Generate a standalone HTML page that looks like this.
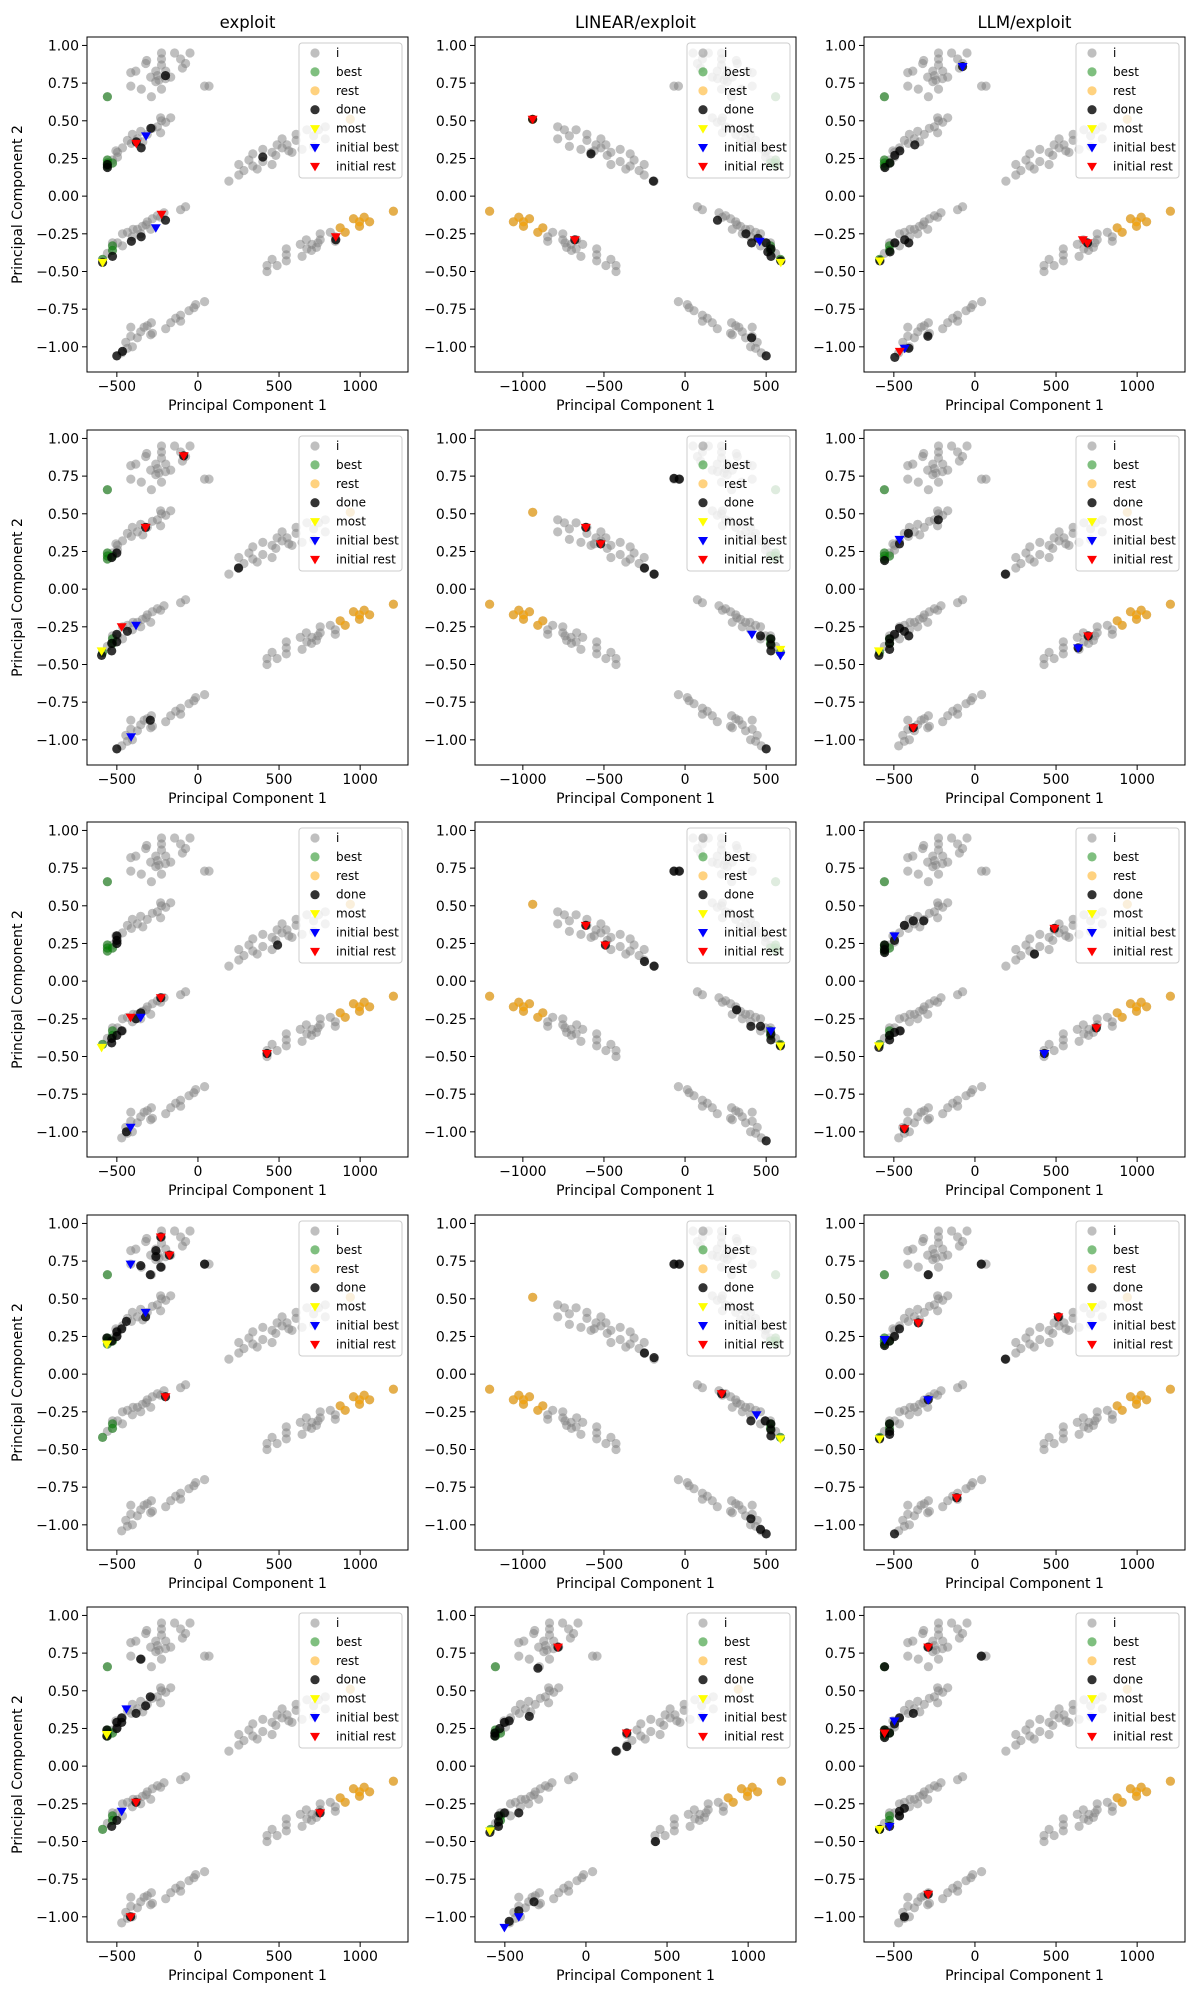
<!DOCTYPE html>
<html><head><meta charset="utf-8"><style>
html,body{margin:0;padding:0;background:#fff;}
svg{display:block;font-family:"DejaVu Sans","Liberation Sans",sans-serif;}
</style></head><body>
<svg id="fig" width="1200" height="2000" viewBox="0 0 1200 2000" xmlns="http://www.w3.org/2000/svg"></svg>
<script>
// ---- base point cloud (exploit orientation) ----
const grayPts = [[-225,.95],[-144,.95],[-49,.95],[-316,.90],[-225,.91],[-107,.91],[-76,.88],[-414,.82],[-383,.83],[-322,.88],[-260,.83],[-199,.83],[-250,.80],[-168,.79],[-96,.85],[-291,.79],[-260,.76],[-414,.73],[-349,.71],[-225,.71],[-287,.66],[41,.73],[68,.73],[-225,.87],[-200,.78],[-240,.77],
[-527,.24],[-496,.29],[-465,.32],[-435,.37],[-404,.41],[-373,.38],[-353,.43],[-312,.41],[-281,.45],[-230,.52],[-199,.49],[-168,.52],[-230,.42],[-250,.46],[-496,.26],[-506,.30],[-225,.50],[-410,.35],[-340,.36],
[-558,-.38],[-527,-.31],[-496,-.31],[-465,-.25],[-435,-.24],[-404,-.27],[-373,-.22],[-342,-.20],[-312,-.17],[-281,-.15],[-250,-.13],[-209,-.11],[-107,-.09],[-76,-.07],[-465,-.33],[-291,-.22],[-353,-.25],[-230,-.14],[-400,-.22],[-320,-.19],
[-445,-.97],[-414,-.93],[-414,-.87],[-353,-.90],[-312,-.86],[-287,-.84],[-281,-.91],[-332,-.87],[-199,-.88],[-168,-.84],[-137,-.81],[-107,-.79],[-107,-.83],[-55,-.76],[-25,-.74],[-14,-.72],[41,-.70],[-291,-.92],[-373,-.94],[-404,-1.00],[-435,-1.01],[-470,-1.04],
[191,.10],[252,.14],[252,.21],[283,.17],[314,.24],[338,.28],[338,.20],[365,.18],[400,.31],[400,.23],[457,.21],[457,.29],[488,.34],[519,.38],[519,.32],[549,.34],[580,.29],[605,.41],[605,.37],[642,.31],[672,.44],[713,.40],[744,.44],[785,.46],[785,.38],[713,.33],[480,.27],[560,.30],
[426,-.50],[426,-.46],[457,-.42],[488,-.46],[545,-.35],[545,-.43],[545,-.39],[631,-.32],[642,-.40],[668,-.29],[672,-.35],[703,-.32],[730,-.34],[754,-.29],[754,-.25],[816,-.24],[847,-.30],[847,-.27],[700,-.36],[740,-.31]];
const restPts = [[877,-.21],[908,-.24],[959,-.15],[996,-.17],[996,-.20],[1025,-.14],[1058,-.17],[1205,-.10],[939,.51]];
const bestPts = [[-558,.66],[-558,.24],[-558,.22],[-527,.22],[-527,-.33],[-527,-.36],[-588,-.42],[-558,.20]];
const xTicksNormal = [-500,0,500,1000];
const xTicksFlip = [-1000,-500,0,500];
const yTicks = [-1.00,-0.75,-0.50,-0.25,0.00,0.25,0.50,0.75,1.00];
const colTitles = ["exploit","LINEAR/exploit","LLM/exploit"];
const legendLabels = ["i","best","rest","done","most","initial best","initial rest"];

// ---- per-panel overlays (display coordinates) ----
const doneR0C0=[[-200,.80],[-558,.21],[-558,.19],[-290,.45],[-350,.32],[-380,.36],[400,.26],[-200,-.16],[-350,-.27],[-410,-.30],[-527,-.40],[-588,-.44],[-500,-1.06],[-465,-1.03],[850,-.29]];
const mostR0C0=[[-588,-.44]], ibR0C0=[[-320,.40],[-260,-.21]], irR0C0=[[-380,.35],[-225,-.12],[850,-.27]];
const doneR0C1=[[-940,.51],[-680,-.29],[-580,.28],[-195,.10],[200,-.16],[375,-.25],[410,-.31],[500,-.31],[530,-.35],[510,-.37],[530,-.40],[590,-.43],[410,-.94],[500,-1.06],[450,-.28]];
const mostR0C1=[[590,-.44]], ibR0C1=[[460,-.30]], irR0C1=[[-940,.51],[-680,-.29]];
const doneR0C2=[[-76,.86],[-555,.19],[-524,.22],[-494,.27],[-463,.30],[-371,.34],[-586,-.43],[-524,-.37],[-494,-.31],[-433,-.29],[-408,-.31],[694,-.31],[-494,-1.07],[-408,-1.01],[-290,-.93]];
const mostR0C2=[[-586,-.43]], ibR0C2=[[-76,.86],[-433,-1.01]], irR0C2=[[665,-.29],[694,-.31],[-463,-1.03]];
const doneR1C0=[[-88,.885],[-323,.41],[-532,.21],[-500,.24],[250,.14],[-435,-.28],[-500,-.30],[-532,-.36],[-532,-.41],[-594,-.44],[-500,-.35],[-294,-.87],[-500,-1.06]];
const mostR1C0=[[-594,-.41]], ibR1C0=[[-382,-.24],[-412,-.98]], irR1C0=[[-88,.885],[-323,.41],[-470,-.25]];
const doneR1C1=[[-68,.735],[-35,.73],[-612,.41],[-520,.30],[-250,.14],[-191,.10],[465,-.31],[529,-.33],[529,-.37],[529,-.41],[500,-1.06]];
const mostR1C1=[[588,-.40]], ibR1C1=[[412,-.30],[588,-.44]], irR1C1=[[-612,.41],[-520,.30]];
const doneR1C2=[[-410,.37],[-226,.46],[-465,.30],[-557,.19],[188,.10],[-592,-.44],[-526,-.33],[-526,-.36],[-526,-.40],[-496,-.30],[-465,-.26],[-435,-.28],[-408,-.31],[636,-.39],[698,-.31],[-380,-.92]];
const mostR1C2=[[-592,-.41]], ibR1C2=[[-465,.33],[636,-.39]], irR1C2=[[698,-.31],[-380,-.92]];
const doneR2C0=[[-500,.30],[-500,.25],[-500,.27],[491,.24],[-229,-.11],[-353,-.21],[-382,-.25],[-470,-.33],[-500,-.36],[-532,-.38],[-532,-.41],[426,-.48],[-441,-1.00]];
const mostR2C0=[[-594,-.44]], ibR2C0=[[-353,-.24],[-415,-.97]], irR2C0=[[-229,-.11],[-415,-.24],[426,-.48]];
const doneR2C1=[[-68,.73],[-35,.73],[-612,.37],[-491,.24],[-250,.13],[-191,.10],[318,-.19],[406,-.30],[465,-.30],[529,-.39],[529,-.35],[588,-.43],[500,-1.06]];
const mostR2C1=[[588,-.43]], ibR2C1=[[529,-.33]], irR2C1=[[-612,.37],[-491,.24]];
const doneR2C2=[[-557,.19],[-557,.24],[-557,.21],[-496,.27],[-435,.37],[-380,.40],[-316,.40],[367,.18],[490,.35],[-592,-.44],[-526,-.39],[-526,-.36],[-496,-.34],[-461,-.33],[428,-.48],[749,-.31],[-435,-.98]];
const mostR2C2=[[-592,-.43]], ibR2C2=[[-496,.30],[428,-.48]], irR2C2=[[490,.35],[749,-.31],[-435,-.98]];
const doneR3C0=[[-229,.91],[-259,.82],[-259,.78],[-176,.79],[-353,.72],[-294,.66],[-229,.71],[41,.73],[-323,.38],[-441,.35],[-470,.30],[-500,.28],[-500,.25],[-532,.22],[-562,.24],[-200,-.15]];
const mostR3C0=[[-562,.20]], ibR3C0=[[-415,.73],[-323,.41]], irR3C0=[[-229,.91],[-176,.79],[-200,-.15]];
const doneR3C1=[[-68,.73],[-35,.73],[-250,.14],[-191,.11],[226,-.13],[406,-.31],[494,-.31],[529,-.33],[529,-.37],[529,-.41],[406,-.96],[465,-1.03],[500,-1.06]];
const mostR3C1=[[588,-.43]], ibR3C1=[[441,-.27]], irR3C1=[[226,-.13]];
const doneR3C2=[[-288,.66],[39,.73],[-557,.19],[-526,.22],[-496,.25],[-465,.30],[-349,.34],[188,.10],[514,.38],[-288,-.17],[-526,-.33],[-526,-.38],[-526,-.40],[-588,-.43],[-112,-.82],[-496,-1.06]];
const mostR3C2=[[-588,-.43]], ibR3C2=[[-557,.23],[-288,-.17]], irR3C2=[[-349,.34],[514,.38],[-112,-.82]];
const doneR4C0=[[-353,.71],[-294,.46],[-323,.40],[-382,.35],[-470,.32],[-500,.29],[-470,.29],[-500,.25],[-562,.24],[-562,.20],[-382,-.24],[-500,-.36],[-532,-.40],[753,-.31],[-415,-1.00]];
const mostR4C0=[[-562,.21]], ibR4C0=[[-441,.38],[-470,-.30]], irR4C0=[[-382,-.24],[753,-.31],[-415,-1.00]];
const doneR4C1=[[-172,.79],[-296,.65],[-562,.20],[-562,.22],[-532,.25],[-503,.29],[-473,.30],[-349,.33],[252,.22],[186,.10],[252,.13],[-539,-.33],[-539,-.37],[-503,-.31],[-414,-.31],[-539,-.40],[-592,-.44],[429,-.50],[-320,-.90],[-414,-.96],[-473,-1.03]];
const mostR4C1=[[-592,-.43]], ibR4C1=[[-414,-1.00],[-503,-1.07]], irR4C1=[[-172,.79],[252,.22]];
const doneR4C2=[[-288,.79],[-557,.66],[39,.73],[-465,.32],[-380,.35],[-557,.24],[-557,.22],[-526,.22],[-557,.19],[-496,.28],[-465,-.30],[-465,-.33],[-435,-.28],[-526,-.40],[-588,-.42],[-288,-.85],[-435,-1.00]];
const mostR4C2=[[-588,-.42]], ibR4C2=[[-496,.30],[-526,-.40]], irR4C2=[[-288,.79],[-557,.22],[-288,-.85]];

const panels = [
 [doneR0C0,mostR0C0,ibR0C0,irR0C0,false],[doneR0C1,mostR0C1,ibR0C1,irR0C1,true],[doneR0C2,mostR0C2,ibR0C2,irR0C2,false],
 [doneR1C0,mostR1C0,ibR1C0,irR1C0,false],[doneR1C1,mostR1C1,ibR1C1,irR1C1,true],[doneR1C2,mostR1C2,ibR1C2,irR1C2,false],
 [doneR2C0,mostR2C0,ibR2C0,irR2C0,false],[doneR2C1,mostR2C1,ibR2C1,irR2C1,true],[doneR2C2,mostR2C2,ibR2C2,irR2C2,false],
 [doneR3C0,mostR3C0,ibR3C0,irR3C0,false],[doneR3C1,mostR3C1,ibR3C1,irR3C1,true],[doneR3C2,mostR3C2,ibR3C2,irR3C2,false],
 [doneR4C0,mostR4C0,ibR4C0,irR4C0,false],[doneR4C1,mostR4C1,ibR4C1,irR4C1,false],[doneR4C2,mostR4C2,ibR4C2,irR4C2,false]
];

const NS="http://www.w3.org/2000/svg";
const fig=document.getElementById('fig');
function mk(tag,attrs,parent){const e=document.createElementNS(NS,tag);for(const k in attrs)e.setAttribute(k,attrs[k]);(parent||fig).appendChild(e);return e;}
const colLeft=[87,475,864], rowTop=[37,430,822,1215,1607], AW=321, AH=335;
const YMAX=1.056, YMIN=-1.167;
function fmtY(v){const s=Math.abs(v).toFixed(2);return (v<0?"\u2212":"")+s;}
function fmtX(v){return (v<0?"\u2212":"")+Math.abs(v);}
function circ(g,x,y,fill,name){const c=mk('circle',{cx:x.toFixed(1),cy:y.toFixed(1),r:4.6,fill:fill},g);

return c;}
function tri(g,x,y,fill,name){const p=mk('polygon',{points:`${(x-5).toFixed(1)},${(y-3.5).toFixed(1)} ${(x+5).toFixed(1)},${(y-3.5).toFixed(1)} ${x.toFixed(1)},${(y+5).toFixed(1)}`,fill:fill},g);

return p;}

const C_GRAY="rgba(128,128,128,0.5)", C_GREEN="rgba(0,128,0,0.5)", C_ORANGE="rgba(255,165,0,0.6)", C_DONE="rgba(0,0,0,0.8)";

panels.forEach((p,idx)=>{
  const r=Math.floor(idx/3), c=idx%3, L=colLeft[c], T=rowTop[r];
  const [done,most,ib,ir,flip]=p;
  const xmin=flip?-1295:-684, xmax=flip?684:1295;
  const sx=v=>L+(v-xmin)/(xmax-xmin)*AW;
  const sy=v=>T+(YMAX-v)/(YMAX-YMIN)*AH;
  const g=mk('g',{});
  
  
  const cid='clip'+idx;
  const cp=mk('clipPath',{id:cid},g);mk('rect',{x:L,y:T,width:AW,height:AH},cp);
  const pg=mk('g',{'clip-path':`url(#${cid})`},g);
  
  
  const fx=v=>flip?-v:v;
  grayPts.forEach(q=>circ(pg,sx(fx(q[0])),sy(q[1]),C_GRAY,'point-i'));
  restPts.forEach(q=>circ(pg,sx(fx(q[0])),sy(q[1]),C_GRAY,'point-i'));
  bestPts.forEach(q=>circ(pg,sx(fx(q[0])),sy(q[1]),C_GRAY,'point-i'));
  bestPts.forEach(q=>circ(pg,sx(fx(q[0])),sy(q[1]),C_GREEN,'point-best'));
  restPts.forEach(q=>circ(pg,sx(fx(q[0])),sy(q[1]),C_ORANGE,'point-rest'));
  done.forEach(q=>circ(pg,sx(q[0]),sy(q[1]),C_DONE,'point-done'));
  most.forEach(q=>tri(pg,sx(q[0]),sy(q[1]),'#ffff00','marker-most'));
  ib.forEach(q=>tri(pg,sx(q[0]),sy(q[1]),'#0000ff','marker-initial-best'));
  ir.forEach(q=>tri(pg,sx(q[0]),sy(q[1]),'#ff0000','marker-initial-rest'));
  const fr=mk('rect',{x:L,y:T,width:AW,height:AH,fill:'none',stroke:'#000','stroke-width':1},g);
  
  
  (flip?xTicksFlip:xTicksNormal).forEach(v=>{
    const x=sx(v);
    mk('line',{x1:x,y1:T+AH,x2:x,y2:T+AH+5,stroke:'#000','stroke-width':1},g);
    const t=mk('text',{x:x,y:T+AH+19,'font-size':14,'text-anchor':'middle',fill:'#000'},g);
    t.textContent=fmtX(v);
    
    
  });
  yTicks.forEach(v=>{
    const y=sy(v);
    mk('line',{x1:L-5,y1:y,x2:L,y2:y,stroke:'#000','stroke-width':1},g);
    const t=mk('text',{x:L-8,y:y+5,'font-size':14,'text-anchor':'end',fill:'#000'},g);
    t.textContent=fmtY(v);
    
    
  });
  const xl=mk('text',{x:L+AW/2,y:T+AH+38,'font-size':14,'text-anchor':'middle',fill:'#000'},g);
  xl.textContent='Principal Component 1';
  
  
  if(c===0){
    const yl=mk('text',{x:0,y:0,'font-size':14,'text-anchor':'middle',fill:'#000',transform:`translate(${L-65},${T+AH/2}) rotate(-90)`},g);
    yl.textContent='Principal Component 2';
    
    
  }
  if(r===0){
    const tt=mk('text',{x:L+AW/2,y:T-9,'font-size':16.5,'text-anchor':'middle',fill:'#000'},g);
    tt.textContent=colTitles[c];
    
    
  }
  const lg=mk('g',{},g);
  
  
  mk('rect',{x:L+212,y:T+6,width:103,height:135,rx:3,fill:'rgba(255,255,255,0.8)',stroke:'#cccccc','stroke-width':1},lg);
  const lcols=[C_GRAY,C_GREEN,'rgba(255,165,0,0.5)',C_DONE,'#ffff00','#0000ff','#ff0000'];
  legendLabels.forEach((lab,i)=>{
    const y=T+16+i*18.9, mx=L+228;
    if(i<4) circ(lg,mx,y,lcols[i],'legend-marker');
    else tri(lg,mx,y,lcols[i],'legend-marker');
    const t=mk('text',{x:L+249,y:y+4,'font-size':12,fill:'#000'},lg);
    t.textContent=lab;
    
    
  });
});
</script>
</body></html>
